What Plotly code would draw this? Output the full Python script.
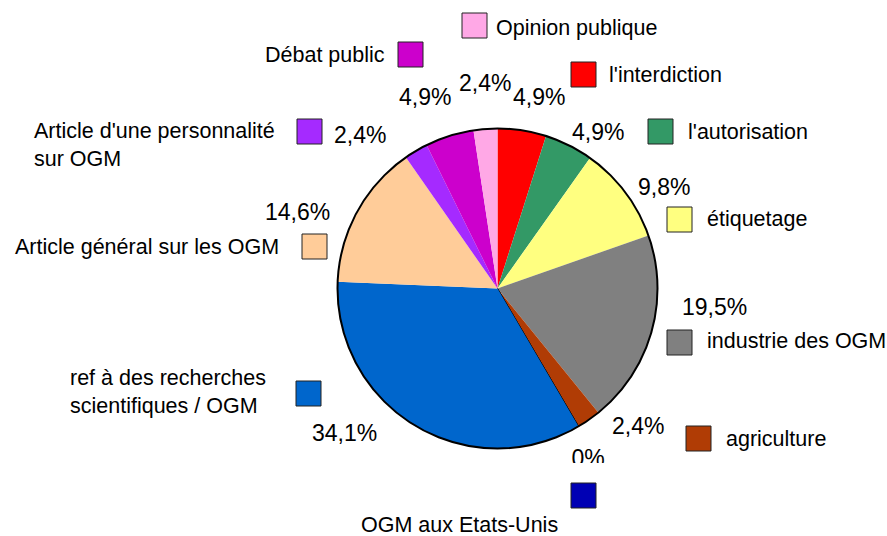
import plotly.graph_objects as go

# ---- data (clockwise from 12 o'clock) ----
categories = ["l'interdiction", "l'autorisation", "étiquetage", "industrie des OGM",
              "agriculture", "OGM aux Etats-Unis",
              "ref à des recherches<br>scientifiques / OGM",
              "Article général sur les OGM",
              "Article d'une personnalité<br>sur OGM",
              "Débat public", "Opinion publique"]
percent_values = [4.9, 4.9, 9.8, 19.5, 2.4, 0, 34.1, 14.6, 2.4, 4.9, 2.4]
colors = ["#FF0000", "#339966", "#FFFF80", "#808080", "#B03C05", "#0000B4",
          "#0066CC", "#FFCC99", "#A52AFF", "#CC00CC", "#FFA8E6"]

W, H = 887, 536
FONT = "Liberation Sans, Arial, sans-serif"
LABEL_SIZE = 21.5
PCT_SIZE = 23

def px(x):
    return x / W

def py(y):
    return 1 - y / H

# ---- layout positions (pixels) ----
# percent label centre, legend box top-left, legend label (left x, centre y)
pct_pos = [(539, 97), (598, 132), (664, 187), (714, 307), (638, 426), (588, 460),
           (344, 433), (297, 212), (360, 135), (425, 97), (485, 83)]
box_pos = [(571, 62), (648, 119), (667, 207), (667, 330), (686, 426), (571, 483),
           (296, 381), (302, 234), (297, 119), (398, 42), (462, 13)]
lab_pos = [(607, 75), (686, 132), (705, 219), (705, 341), (724, 439), (359, 525),
           (68, 392), (13, 247), (32, 145), (263, 55), (494, 28)]

def fmt(v):
    if v == 0:
        return "0%"
    return f"{v:.1f}".replace(".", ",") + "%"

n = len(percent_values)
# tiny stand-in for a zero value so its border line is still drawn
pie_vals = [v if v > 0 else 1e-6 for v in percent_values]
line_w = [0 if v > 0 else 1 for v in percent_values]

cx0, cx1 = 337.5, 657.5
cy0, cy1 = 128.5, 448.5
dom = dict(x=[px(cx0), px(cx1)], y=[py(cy1), py(cy0)])

fig = go.Figure()
fig.add_trace(go.Pie(values=pie_vals, labels=categories, sort=False,
                     direction="clockwise", rotation=0,
                     marker=dict(colors=colors, line=dict(color="black", width=line_w)),
                     textinfo="none", hoverinfo="label+percent", showlegend=False,
                     domain=dom))
# outer outline
fig.add_trace(go.Pie(values=[1], labels=["_"], sort=False, textinfo="none",
                     marker=dict(colors=["rgba(0,0,0,0)"], line=dict(color="black", width=2)),
                     hoverinfo="skip", showlegend=False, domain=dom))

annotations = []
shapes = []
for i in range(n):
    bx, by = box_pos[i]
    shapes.append(dict(type="rect", xref="paper", yref="paper",
                       x0=px(bx), x1=px(bx + 25), y0=py(by + 25), y1=py(by),
                       fillcolor=colors[i], line=dict(color="#222222", width=1)))
    lx, ly = lab_pos[i]
    annotations.append(dict(x=px(lx), y=py(ly), xref="paper", yref="paper",
                            text=categories[i], showarrow=False, xanchor="left",
                            yanchor="middle", align="left",
                            font=dict(family=FONT, size=LABEL_SIZE, color="black")))
    if percent_values[i] == 0:
        continue
    tx, ty = pct_pos[i]
    annotations.append(dict(x=px(tx), y=py(ty), xref="paper", yref="paper",
                            text=fmt(percent_values[i]), showarrow=False,
                            xanchor="center", yanchor="middle",
                            font=dict(family=FONT, size=PCT_SIZE, color="black")))

# zero-value label, clipped at the bottom of the plot area like the original
clip_bottom = 463
zi = percent_values.index(0)
fig.add_trace(go.Scatter(x=[pct_pos[zi][0]], y=[pct_pos[zi][1]], mode="text",
                         text=[fmt(percent_values[zi])], textposition="middle center",
                         textfont=dict(family=FONT, size=PCT_SIZE, color="black"),
                         cliponaxis=True, showlegend=False, hoverinfo="skip",
                         xaxis="x", yaxis="y"))

fig.update_layout(
    width=W, height=H, margin=dict(l=0, r=0, t=0, b=0),
    paper_bgcolor="white", plot_bgcolor="rgba(0,0,0,0)",
    xaxis=dict(range=[0, W], domain=[0, 1], visible=False, fixedrange=True),
    yaxis=dict(range=[clip_bottom, 0], domain=[py(clip_bottom), 1], visible=False,
               fixedrange=True),
    annotations=annotations, shapes=shapes,
)

fig.write_html("out.html", post_script="document.body.style.margin='0px';",
               config={"displayModeBar": False})
